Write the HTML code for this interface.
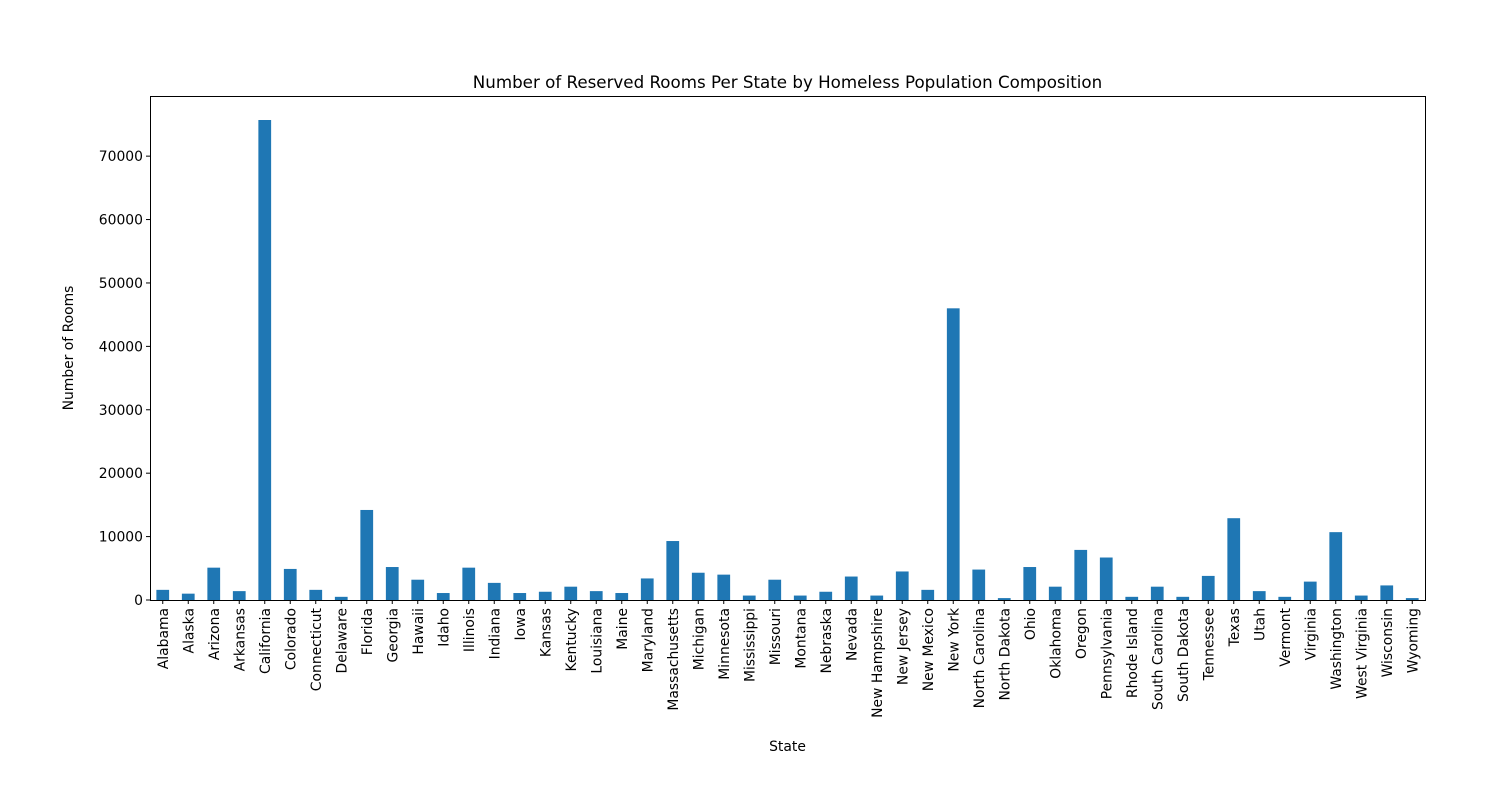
<!DOCTYPE html>
<html><head><meta charset="utf-8"><style>
body{margin:0;background:#fff;}
svg{font-family:"DejaVu Sans","Liberation Sans",sans-serif;}
</style></head><body>
<svg id="chart" width="1500" height="800">
<rect x="0" y="0" width="1500" height="800" fill="#fff"/>
<text x="787.5" y="88" font-size="16.7" text-anchor="middle">Number of Reserved Rooms Per State by Homeless Population Composition</text>
<text x="787.5" y="751" font-size="13.9" text-anchor="middle">State</text>
<text transform="translate(73,348) rotate(-90)" font-size="13.9" text-anchor="middle">Number of Rooms</text>
<g id="bars"></g>
<g id="xticks"></g>
<g id="yticks"></g>
<rect x="150.5" y="96.5" width="1275" height="504" fill="none" stroke="#000" stroke-width="1"/>
</svg>
<script>
const states=["Alabama","Alaska","Arizona","Arkansas","California","Colorado","Connecticut","Delaware","Florida","Georgia","Hawaii","Idaho","Illinois","Indiana","Iowa","Kansas","Kentucky","Louisiana","Maine","Maryland","Massachusetts","Michigan","Minnesota","Mississippi","Missouri","Montana","Nebraska","Nevada","New Hampshire","New Jersey","New Mexico","New York","North Carolina","North Dakota","Ohio","Oklahoma","Oregon","Pennsylvania","Rhode Island","South Carolina","South Dakota","Tennessee","Texas","Utah","Vermont","Virginia","Washington","West Virginia","Wisconsin","Wyoming"];
const rooms=[1600,1000,5100,1400,75700,4900,1600,500,14200,5200,3200,1100,5100,2700,1100,1300,2100,1400,1100,3400,9300,4300,4000,700,3200,700,1300,3700,700,4500,1600,46000,4800,300,5200,2100,7900,6700,500,2100,500,3800,12900,1400,500,2900,10700,700,2300,300];
const yTicks=[0,10000,20000,30000,40000,50000,60000,70000];
const NS="http://www.w3.org/2000/svg";
const L=150,R=1425,T=96,B=600,yMax=79485;
const step=(R-L)/states.length;
const x=i=>L+step*(i+0.5);
const y=v=>B-(v/yMax)*(B-T);
const bars=document.getElementById('bars'),xt=document.getElementById('xticks'),yt=document.getElementById('yticks');
function mk(t,a){const e=document.createElementNS(NS,t);for(const k in a)e.setAttribute(k,a[k]);return e;}
states.forEach((s,i)=>{
 const r=mk('rect',{x:x(i)-step/4,y:y(rooms[i]),width:step/2,height:B-y(rooms[i]),fill:'#1f77b4'});
 
 
 bars.appendChild(r);
 const tk=mk('line',{x1:x(i),x2:x(i),y1:B,y2:B+4,stroke:'#000'});
 
 
 xt.appendChild(tk);
 const tx=mk('text',{transform:`translate(${x(i)+5},${B+8}) rotate(-90)`,'font-size':13.9,'text-anchor':'end'});
 tx.textContent=s;
 
 
 xt.appendChild(tx);
});
yTicks.forEach(v=>{
 const tk=mk('line',{x1:L-4,x2:L,y1:y(v),y2:y(v),stroke:'#000'});
 
 
 yt.appendChild(tk);
 const tx=mk('text',{x:L-7,y:y(v)+5,'font-size':13.9,'text-anchor':'end'});
 tx.textContent=v;
 
 
 yt.appendChild(tx);
});
</script>
</body></html>
